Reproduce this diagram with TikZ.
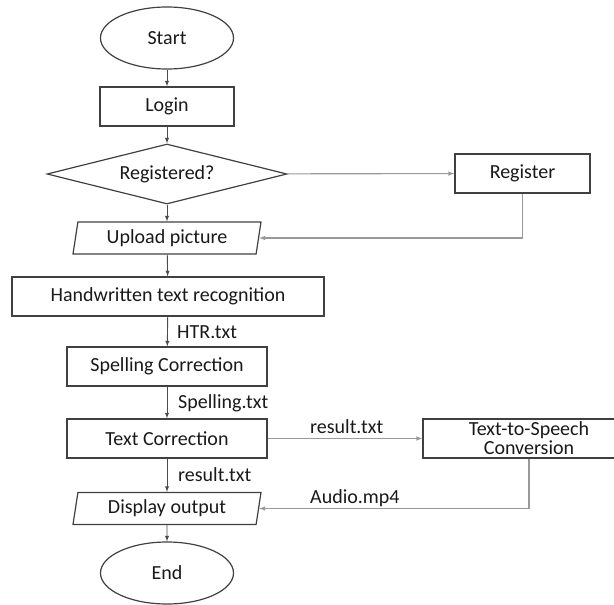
\documentclass[tikz,border=0pt]{standalone}
\usepackage{fontspec}
\setmainfont{Carlito}
\usetikzlibrary{shapes.geometric}

\tikzstyle{every node}=[font=\fontsize{20}{19}\selectfont, text=black!90]
\tikzstyle{terminal}=[ellipse, draw=black!75, line width=1.2pt, minimum width=133pt, minimum height=62pt, inner sep=0pt]
\tikzstyle{process}=[rectangle, draw=black!75, line width=1.3pt, minimum height=39pt, inner sep=0pt]
\tikzstyle{decision}=[diamond, draw=black!75, line width=1.2pt, minimum width=240pt, minimum height=60pt, inner sep=0pt, aspect=4]
\tikzstyle{io}=[trapezium, trapezium left angle=74, trapezium right angle=106, trapezium stretches body, draw=black!75, line width=1.2pt, minimum width=188pt, minimum height=32pt, inner sep=0pt]
\tikzstyle{arrow}=[line width=0.9pt, black!70, -latex]
\tikzstyle{side}=[black!40, line width=1.1pt]
\tikzstyle{tag}=[anchor=west, inner sep=0pt]

\begin{document}
\begin{tikzpicture}[x=1pt, y=-1pt]
      \useasboundingbox (0, 0) rectangle (614, 605);

      \node[terminal] (start) at (167, 38) {Start};
      \node[process, minimum width=134pt] (login) at (167, 106.5) {Login};
      \node[decision] (reg) at (167, 174) {Registered?};
      \node[process, minimum width=135pt] (register) at (522.5, 173.5) {Register};
      \node[io] (upload) at (167, 238) {Upload picture};
      \node[process, minimum width=312pt] (htr) at (168, 296.5) {Handwritten text recognition};
      \node[process, minimum width=200pt] (spell) at (167, 366.5) {Spelling Correction};
      \node[process, minimum width=200pt] (corr) at (167, 438.5) {Text Correction};
      \node[process, minimum width=212pt, align=center] (tts) at (529, 438.5) {Text-to-Speech\\Conversion};
      \node[io] (display) at (167, 508.5) {Display output};
      \node[terminal] (end) at (167, 573) {End};

      \node[tag] (htrtxt) at (177, 332) {HTR.txt};
      \node[tag] (spelltxt) at (178, 403) {Spelling.txt};
      \node[tag] (restxt) at (178, 475) {result.txt};
      \node[tag] (ttstxt) at (310, 427) {result.txt};
      \node[tag] (audio) at (310, 498) {Audio.mp4};

      \draw[arrow] (start) to (login);
      \draw[arrow] (login) to (reg);
      \draw[arrow] (reg) to (upload);
      \draw[arrow] (upload) to (htr);
      \draw[arrow] (htr) to (spell);
      \draw[arrow] (spell) to (corr);
      \draw[arrow] (corr) to (display);
      \draw[arrow] (display) to (end);
      \draw[arrow, side] (reg) to (register);
      \draw[arrow, side] (register) |- (upload);
      \draw[arrow, side] (corr) to (tts);
      \draw[arrow, side] (tts) |- (display);
    \end{tikzpicture}
\end{document}
